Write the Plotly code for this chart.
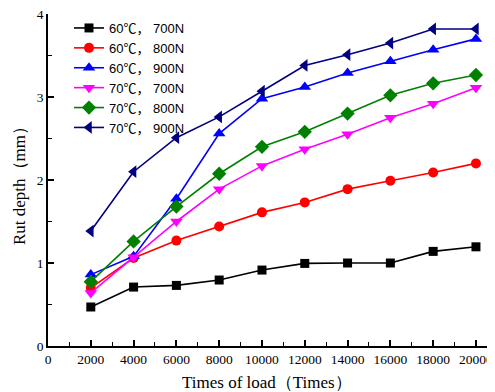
import plotly.graph_objects as go

loads = [2000, 4000, 6000, 8000, 10000, 12000, 14000, 16000, 18000, 20000]
s60_700 = [0.47, 0.71, 0.73, 0.795, 0.915, 0.995, 1.0, 1.0, 1.14, 1.195]
s60_800 = [0.70, 1.06, 1.27, 1.44, 1.61, 1.73, 1.89, 1.99, 2.09, 2.20]
s60_900 = [0.86, 1.08, 1.775, 2.56, 2.98, 3.12, 3.29, 3.43, 3.57, 3.70]
s70_700 = [0.64, 1.07, 1.50, 1.89, 2.17, 2.37, 2.55, 2.75, 2.92, 3.11]
s70_800 = [0.775, 1.26, 1.68, 2.075, 2.40, 2.58, 2.80, 3.02, 3.165, 3.265]
s70_900 = [1.385, 2.10, 2.51, 2.76, 3.07, 3.38, 3.51, 3.65, 3.82, 3.82]
names = ["60℃， 700N", "60℃， 800N", "60℃， 900N", "70℃， 700N", "70℃， 800N", "70℃， 900N"]
colors = ["#000000", "#FF0000", "#0000FF", "#FF00FF", "#008000", "#000080"]
symbols = ["square", "circle", "triangle-up", "triangle-down", "diamond", "triangle-left"]
sizes = [9, 10, 11, 11, 11, 11]
x_ticks = [0, 2000, 4000, 6000, 8000, 10000, 12000, 14000, 16000, 18000, 20000]
y_ticks = [0, 1, 2, 3, 4]

series = [s60_700, s60_800, s60_900, s70_700, s70_800, s70_900]

fig = go.Figure()
for name, ys, c, sym, sz in zip(names, series, colors, symbols, sizes):
    fig.add_trace(go.Scatter(
        x=loads, y=ys, name=name, mode="lines+markers",
        line=dict(color=c, width=1.6),
        marker=dict(symbol=sym, size=sz, color=c, line=dict(width=0)),
        cliponaxis=False,
    ))

serif = "Liberation Serif"
OFF = 8  # page body margin
W, H = 495 - OFF, 392 - OFF
L, R, T, B = 48 - OFF, 0, 14 - OFF, 46
pw, ph = W - L - R, H - T - B

def px(x):  # page pixel -> paper
    return (x - OFF - L) / pw

def py(y):
    return (H - B - (y - OFF)) / ph

fig.update_layout(
    width=W, height=H,
    margin=dict(l=L, r=R, t=T, b=B, autoexpand=False),
    paper_bgcolor="white", plot_bgcolor="white",
    showlegend=True,
    legend=dict(x=px(69), y=py(13), xanchor="left", yanchor="top",
                bgcolor="rgba(0,0,0,0)", borderwidth=0,
                font=dict(family="Liberation Sans, Noto Sans CJK SC", size=13, color="black"),
                tracegroupgap=0, itemwidth=30),
    xaxis=dict(range=[0, 20890], tickvals=x_ticks, ticktext=[str(v) for v in x_ticks],
               automargin=False, ticklabeloverflow="allow",
               showgrid=False, zeroline=False, showline=True, linecolor="black", linewidth=1.5,
               ticks="inside", ticklen=6, tickwidth=1.5, tickcolor="black",
               minor=dict(dtick=1000, tick0=0, ticks="inside", ticklen=4, tickwidth=1.2, tickcolor="black"),
               tickfont=dict(family=serif, size=13.5, color="black")),
    yaxis=dict(range=[0, 4], tickvals=y_ticks, ticktext=[str(v) for v in y_ticks],
               automargin=False, ticklabeloverflow="allow",
               showgrid=False, zeroline=False, showline=True, linecolor="black", linewidth=1.5,
               ticks="inside", ticklen=6, tickwidth=1.5, tickcolor="black",
               minor=dict(dtick=0.5, tick0=0, ticks="inside", ticklen=4, tickwidth=1.2, tickcolor="black"),
               tickfont=dict(family=serif, size=13.5, color="black")),
    annotations=[
        dict(text="Times of load（Times）", x=px(267), y=py(382), xref="paper", yref="paper",
             xanchor="center", yanchor="middle",
             showarrow=False, font=dict(family=serif, size=17, color="black")),
        dict(text="Rut depth（mm）", x=px(19), y=py(182), textangle=-90, xref="paper", yref="paper",
             xanchor="center", yanchor="middle",
             showarrow=False, font=dict(family=serif, size=17, color="black")),
    ],
)

fig.write_html("out.html")
